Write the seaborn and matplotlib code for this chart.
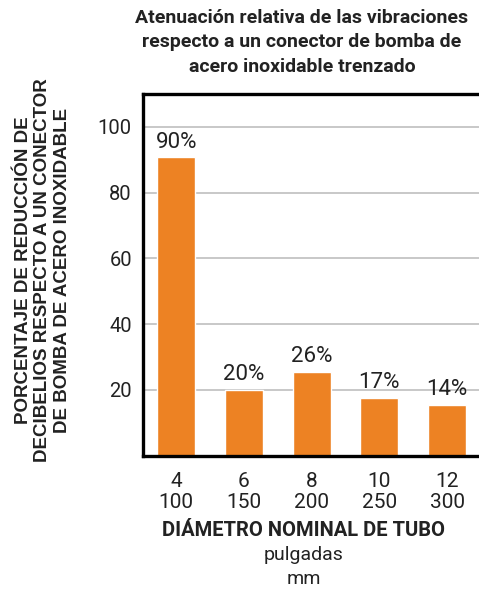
import matplotlib
matplotlib.use("Agg")
import matplotlib.pyplot as plt
import seaborn as sns
import pandas as pd

# datos
pulgadas = ["4", "6", "8", "10", "12"]
mm = ["100", "150", "200", "250", "300"]
reduccion = [90.7, 20.0, 25.5, 17.5, 15.4]
etiquetas = ["90%", "20%", "26%", "17%", "14%"]
yticks = [20, 40, 60, 80, 100]

titulo = "Atenuación relativa de las vibraciones\nrespecto a un conector de bomba de\nacero inoxidable trenzado"
ylabel = "PORCENTAJE DE REDUCCIÓN DE\nDECIBELIOS RESPECTO A UN CONECTOR\nDE BOMBA DE ACERO INOXIDABLE"

df = pd.DataFrame({
    "tubo": [p + "\n" + m for p, m in zip(pulgadas, mm)],
    "reduccion": reduccion,
})

sns.set_style("white")
plt.rcParams["font.family"] = ["Roboto", "DejaVu Sans"]
texto = "#222222"

fig = plt.figure(figsize=(4.79, 5.91), dpi=100)
ax = fig.add_axes([143 / 479, 1 - 455.5 / 591, 338 / 479, 361.5 / 591])

ax.yaxis.grid(True, color="#bfbfbf", linewidth=1.2)
ax.set_axisbelow(True)
sns.barplot(data=df, x="tubo", y="reduccion", color="#ED8223", width=0.56,
            saturation=1, ax=ax)

ax.bar_label(ax.containers[0], labels=etiquetas, padding=3.5, fontsize=16, color=texto)

ax.set_ylim(0, 110)
ax.set_xlim(-0.49, 4.5)
ax.set_yticks(yticks)
ax.tick_params(axis="y", length=0, labelsize=14.5, pad=8, labelcolor=texto)
ax.tick_params(axis="x", length=0, labelsize=15, pad=12, labelcolor=texto)
for t in ax.get_xticklabels():
    t.set_linespacing(1.1)
ax.set_xlabel("")
ax.set_ylabel("")

for lado in ["left", "bottom", "top", "right"]:
    ax.spines[lado].set_visible(True)
    ax.spines[lado].set_color("black")
    ax.spines[lado].set_linewidth(2.4)

fig.text(302 / 479, 1 - 9 / 591, titulo, ha="center", va="top", fontsize=14,
         fontweight="bold", color=texto, linespacing=1.45)

fig.text(43 / 479, 1 - 270 / 591, ylabel, ha="center", va="center", rotation=90,
         fontsize=13.5, fontweight="bold", color=texto, linespacing=1.22,
         family=["Liberation Sans", "DejaVu Sans"])

fig.text(304 / 479, 1 - 530 / 591, "DIÁMETRO NOMINAL DE TUBO", ha="center",
         va="center", fontsize=14.5, fontweight="bold", color=texto)
fig.text(304 / 479, 1 - 555 / 591, "pulgadas", ha="center", va="center",
         fontsize=14, color=texto)
fig.text(304 / 479, 1 - 579 / 591, "mm", ha="center", va="center",
         fontsize=14, color=texto)

fig.savefig("out.png", dpi=100)
